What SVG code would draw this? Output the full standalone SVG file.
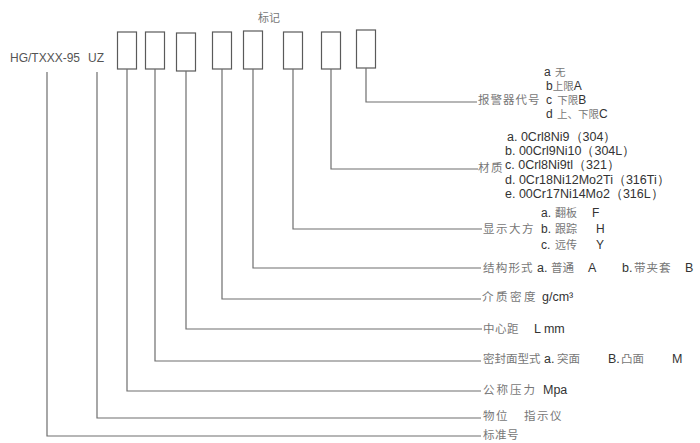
<svg xmlns="http://www.w3.org/2000/svg" width="700" height="443" viewBox="0 0 700 443">
<style>
.ln{fill:none;stroke:#6e6e6e;stroke-width:1.2}
.bx{fill:#fff;stroke:#5a5a5a;stroke-width:1.2}
.lt{font-family:"Liberation Sans",Arial,sans-serif;font-size:12.5px;fill:#333}
.cn{font-family:"Noto Sans CJK SC","Noto Sans CJK JP",sans-serif;font-size:11.5px;fill:#777;letter-spacing:1.5px}
.sm{font-family:"Noto Sans CJK SC","Noto Sans CJK JP",sans-serif;font-size:10.5px;fill:#777;letter-spacing:0}
</style>
<rect width="700" height="443" fill="#fff"/>
<g id="header">
<text class="cn" x="258" y="22" style="font-size:11px;letter-spacing:0">标记</text>
<text class="lt" x="10" y="62" style="fill:#555;font-size:12px">HG/TXXX-95</text>
<text class="lt" x="88" y="62" style="fill:#555;font-size:12px">UZ</text>
</g>
<g id="boxes">
<rect id="box1" class="bx" x="117.5" y="32" width="19" height="37"/>
<rect id="box2" class="bx" x="145.5" y="32" width="19" height="37"/>
<rect id="box3" class="bx" x="176.5" y="33" width="19" height="38"/>
<rect id="box4" class="bx" x="212.5" y="32" width="19" height="37"/>
<rect id="box5" class="bx" x="243.5" y="31" width="19" height="38"/>
<rect id="box6" class="bx" x="283.5" y="32" width="19" height="37"/>
<rect id="box7" class="bx" x="321.5" y="32" width="19" height="37"/>
<rect id="box8" class="bx" x="356.5" y="30" width="19" height="38"/>
</g>
<g id="connectors">
<path class="ln" d="M47,72V436H481"/>
<path class="ln" d="M97,72V418H481"/>
<path class="ln" d="M127,69V391H481"/>
<path class="ln" d="M155,69V361H481"/>
<path class="ln" d="M186,71V329H482"/>
<path class="ln" d="M222,69V299H481"/>
<path class="ln" d="M253,69V268H481"/>
<path class="ln" d="M293,69V229H482"/>
<path class="ln" d="M331,69V169H478"/>
<path class="ln" d="M366,68V102H477"/>
</g>
<g id="alarm">
<text class="cn" x="478" y="104" style="letter-spacing:1px">报警器代号</text>
<text class="lt" x="544" y="76" style="font-size:12px">a <tspan class="sm" dx="1">无</tspan></text>
<text class="lt" x="546" y="90" style="font-size:12px">b<tspan class="sm">上限</tspan>A</text>
<text class="lt" x="546" y="104" style="font-size:12px">c <tspan class="sm" dx="2">下限</tspan>B</text>
<text class="lt" x="546" y="118" style="font-size:12px">d <tspan class="sm" dx="1">上、下限</tspan>C</text>
</g>
<g id="material">
<text class="cn" x="478" y="172">材质</text>
<text class="lt" x="507" y="141">a. 0Crl8Ni9（304）</text>
<text class="lt" x="505" y="155">b. 00Crl9Ni10（304L）</text>
<text class="lt" x="505" y="169">c. 0Crl8Ni9tl（321）</text>
<text class="lt" x="505" y="184">d. 0Cr18Ni12Mo2Ti（316Ti）</text>
<text class="lt" x="505" y="198">e. 00Cr17Ni14Mo2（316L）</text>
</g>
<g id="display">
<text class="cn" x="483" y="233">显示大方</text>
<text class="lt" x="541" y="217" style="font-size:12px">a.<tspan class="sm" x="555" style="font-size:11px">翻板</tspan><tspan x="592">F</tspan></text>
<text class="lt" x="541" y="233" style="font-size:12px">b.<tspan class="sm" x="555" style="font-size:11px">跟踪</tspan><tspan x="596">H</tspan></text>
<text class="lt" x="541" y="248.5" style="font-size:12px">c.<tspan class="sm" x="555" style="font-size:11px">远传</tspan><tspan x="596">Y</tspan></text>
</g>
<g id="structure">
<text class="cn" x="483" y="272" style="letter-spacing:1.2px">结构形式</text>
<text class="lt" x="537" y="272">a.<tspan class="cn" x="551" style="letter-spacing:0">普通</tspan><tspan x="588">A</tspan><tspan x="622">b.</tspan><tspan class="cn" x="634" style="letter-spacing:1px">带夹套</tspan><tspan x="685">B</tspan></text>
</g>
<g id="density">
<text class="cn" x="482" y="301" style="letter-spacing:2.5px">介质密度</text>
<text class="lt" x="542" y="301">g/cm³</text>
</g>
<g id="center">
<text class="cn" x="483" y="333" style="letter-spacing:0.5px">中心距</text>
<text class="lt" x="534" y="333">L mm</text>
</g>
<g id="seal">
<text class="cn" x="483" y="363" style="letter-spacing:0">密封面型式</text>
<text class="lt" x="544" y="363">a.<tspan class="cn" x="557" style="letter-spacing:0">突面</tspan><tspan x="608">B.</tspan><tspan class="cn" x="621" style="letter-spacing:0">凸面</tspan><tspan x="672">M</tspan></text>
</g>
<g id="pressure">
<text class="cn" x="483" y="394" style="letter-spacing:2px">公称压力</text>
<text class="lt" x="543" y="394">Mpa</text>
</g>
<g id="level">
<text class="cn" x="483" y="420">物位</text>
<text class="cn" x="524" y="420">指示仪</text>
</g>
<g id="standard">
<text class="cn" x="483" y="439" style="letter-spacing:0.5px">标准号</text>
</g>
</svg>
